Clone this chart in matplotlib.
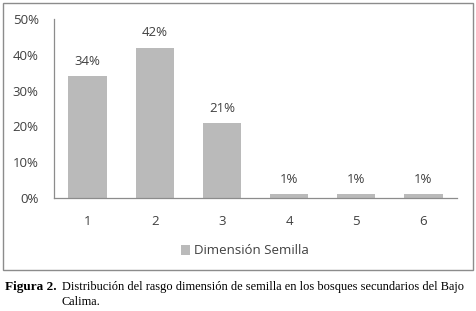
import matplotlib.pyplot as plt
import matplotlib.patches as mpatches

categories = ["1", "2", "3", "4", "5", "6"]
values = [34, 42, 21, 1, 1, 1]
value_labels = ["34%", "42%", "21%", "1%", "1%", "1%"]
y_ticks = [0, 10, 20, 30, 40, 50]
y_tick_labels = ["0%", "10%", "20%", "30%", "40%", "50%"]
series_name = "Dimensión Semilla"

W, H = 477, 311
fig = plt.figure(figsize=(W / 100, H / 100), dpi=100)

# outer frame of the chart
fig.patches.append(mpatches.Rectangle((3 / W, 1 - 270 / H), 470 / W, 267 / H,
                                      transform=fig.transFigure, fill=False,
                                      edgecolor="#8c8c8c", linewidth=1.0))

ax = fig.add_axes([54 / W, 1 - 198 / H, 403 / W, 179 / H])
bar_color = "#bababa"
txt_color = "#404040"
font = "Open Sans"

x = range(len(categories))
bars = ax.bar(x, values, width=0.57, color=bar_color, label=series_name)
for xi, v, lab in zip(x, values, value_labels):
    ax.text(xi, v + 2.3, lab, ha="center", va="bottom", fontsize=9.5,
            color=txt_color, family=font)

ax.set_xlim(-0.5, len(categories) - 0.5)
ax.set_ylim(0, 50)
ax.set_yticks(y_ticks)
ax.set_yticklabels(y_tick_labels, family=font, fontsize=9.5, color=txt_color)
ax.set_xticks(list(x))
ax.set_xticklabels(categories, family=font, fontsize=9.5, color=txt_color)
ax.tick_params(axis="both", length=0)
ax.tick_params(axis="y", pad=11)
ax.tick_params(axis="x", pad=12)
for s in ["top", "right"]:
    ax.spines[s].set_visible(False)
for s in ["left", "bottom"]:
    ax.spines[s].set_color("#8c8c8c")
    ax.spines[s].set_linewidth(0.9)

leg = fig.legend(handles=[bars], labels=[series_name], loc="center",
                 bbox_to_anchor=(245 / W, 1 - 251 / H), frameon=False,
                 prop={"family": font, "size": 9.5}, handlelength=0.7,
                 handleheight=0.7, handletextpad=0.3)
for t in leg.get_texts():
    t.set_color(txt_color)

fig.text(5 / W, 1 - 287 / H, "Figura 2.", family="Liberation Serif",
         fontweight="bold", fontsize=9.5, va="center", ha="left")
fig.text(62 / W, 1 - 287 / H,
         "Distribución del rasgo dimensión de semilla en los bosques secundarios del Bajo",
         family="Liberation Serif", fontsize=8.9, va="center", ha="left")
fig.text(62 / W, 1 - 302 / H, "Calima.", family="Liberation Serif",
         fontsize=8.9, va="center", ha="left")

fig.savefig("out.png", dpi=100)
